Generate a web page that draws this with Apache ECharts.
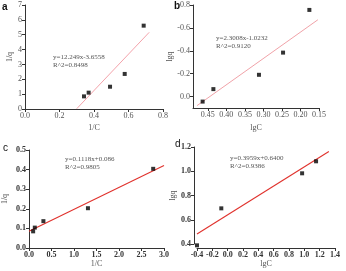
<!DOCTYPE html>
<html>
<head>
<meta charset="utf-8">
<script src="https://cdn.jsdelivr.net/npm/echarts@6/dist/echarts.min.js"></script>
<style>
  html, body { margin: 0; padding: 0; background: #fff; }
  #chart { width: 346px; height: 271px; }
</style>
</head>
<body>
<div id="chart"></div>
<script>
// panel a: 1/q vs 1/C
const aX = [0.342, 0.369, 0.493, 0.578, 0.688]
const aY = [0.85, 1.10, 1.50, 2.36, 5.61]
const aFit = [[0.30, 0.02], [0.72, 5.16]]
// panel b: lgq vs lgC
const bX = [0.464, 0.435, 0.312, 0.247, 0.176]
const bY = [0.044, -0.065, -0.19, -0.384, -0.757]
const bFit = [[0.479, 0.079], [0.153, -0.671]]
// panel c
const cX = [0.092, 0.129, 0.32, 1.31, 2.76]
const cY = [0.085, 0.104, 0.137, 0.203, 0.404]
const cFit = [[0, 0.086], [3, 0.421]]
// panel d
const dX = [-0.4, -0.083, 0.971, 1.153]
const dY = [0.389, 0.694, 0.983, 1.082]
const dFit = [[-0.4, 0.482], [1.32, 1.163]]

const panelLetters = ["a", "b", "c", "d"]
const equations = [
  ["y=12.249x-3.6558", "R^2=0.8498"],
  ["y=2.3008x-1.0232", "R^2=0.9120"],
  ["y=0.1118x+0.086", "R^2=0.9805"],
  ["y=0.3959x+0.6400", "R^2=0.9386"],
]
const xNames = ["1/C", "lgC", "1/C", "lgC"]
const yNames = ["1/q", "lgq", "1/q", "lgq"]

const serif = "'Liberation Serif', 'DejaVu Serif', serif"

function pairs(xs, ys) {
  return xs.map((x, i) => [x, ys[i]])
}

function axisBase(bold) {
  return {
    axisLine: { show: true, onZero: false, lineStyle: { color: "#333", width: 1 } },
    axisTick: { show: true, length: 3, lineStyle: { color: "#333" } },
    splitLine: { show: false },
    axisLabel: {
      fontFamily: serif,
      fontSize: 8,
      fontWeight: bold ? "bold" : "normal",
      color: bold ? "#333" : "#555",
      margin: 3,
    },
    nameLocation: "middle",
    nameTextStyle: { fontFamily: serif, fontSize: 8, color: "#555" },
  }
}

function fmt(d) {
  return (v) => v.toFixed(d)
}

const grids = [
  { left: 25, top: 5, width: 138, height: 104 },
  { left: 193, top: 5, width: 126, height: 103 },
  { left: 24, top: 150, width: 140, height: 98 },
  { left: 197, top: 147, width: 138, height: 97 },
]

const xAxes = [
  Object.assign(axisBase(false), {
    gridIndex: 0, type: "value", min: 0, max: 0.8, interval: 0.2,
    name: xNames[0], nameGap: 15,
  }),
  Object.assign(axisBase(false), {
    gridIndex: 1, type: "value", min: 0.15, max: 0.49, interval: 0.05, inverse: true,
    name: xNames[1], nameGap: 16,
  }),
  Object.assign(axisBase(true), {
    gridIndex: 2, type: "value", min: 0, max: 3, interval: 0.5,
    name: xNames[2], nameGap: 12,
  }),
  Object.assign(axisBase(true), {
    gridIndex: 3, type: "value", min: -0.4, max: 1.4, interval: 0.2, offset: 4,
    name: xNames[3], nameGap: 11,
  }),
]
xAxes[0].axisLabel = Object.assign({}, xAxes[0].axisLabel, { formatter: fmt(1) })
xAxes[1].axisLabel = Object.assign({}, xAxes[1].axisLabel, { formatter: fmt(2), showMaxLabel: false })
xAxes[2].axisLabel = Object.assign({}, xAxes[2].axisLabel, { formatter: fmt(1) })
xAxes[3].axisLabel = Object.assign({}, xAxes[3].axisLabel, { formatter: fmt(1) })

const yAxes = [
  Object.assign(axisBase(false), {
    gridIndex: 0, type: "value", min: 0, max: 7, interval: 1,
    name: yNames[0], nameGap: 11,
  }),
  Object.assign(axisBase(false), {
    gridIndex: 1, type: "value", min: -0.8, max: 0.1, interval: 0.2, inverse: true,
    name: yNames[1], nameGap: 16,
  }),
  Object.assign(axisBase(true), {
    gridIndex: 2, type: "value", min: 0, max: 0.5, interval: 0.1,
    name: yNames[2], nameGap: 20,
  }),
  Object.assign(axisBase(true), {
    gridIndex: 3, type: "value", min: 0.4, max: 1.2, interval: 0.2, offset: 3,
    name: yNames[3], nameGap: 16,
  }),
]
yAxes[0].axisLabel = Object.assign({}, yAxes[0].axisLabel, { formatter: fmt(0) })
yAxes[1].axisLabel = Object.assign({}, yAxes[1].axisLabel, { formatter: fmt(1), showMaxLabel: false })
yAxes[2].axisLabel = Object.assign({}, yAxes[2].axisLabel, { formatter: fmt(1) })
yAxes[3].axisLabel = Object.assign({}, yAxes[3].axisLabel, { formatter: fmt(1) })

const fitColors = ["#f08a94", "#ec8a92", "#e0312c", "#e0312c"]
const points = [pairs(aX, aY), pairs(bX, bY), pairs(cX, cY), pairs(dX, dY)]
const fits = [aFit, bFit, cFit, dFit]

const series = []
for (let i = 0; i < 4; i++) {
  series.push({
    type: "line",
    xAxisIndex: i,
    yAxisIndex: i,
    data: fits[i],
    symbol: "none",
    clip: false,
    lineStyle: { color: fitColors[i], width: i < 2 ? 0.8 : 1.1 },
    z: 1,
  })
  series.push({
    type: "scatter",
    xAxisIndex: i,
    yAxisIndex: i,
    data: points[i],
    symbol: "rect",
    symbolSize: 4,
    clip: false,
    itemStyle: { color: "#000" },
    z: 3,
  })
}

const eqPos = [[53, 53], [216, 34], [65, 155], [230, 154]]
const letterPos = [[2, 2], [174, 1], [3, 143], [175, 139]]
const graphic = []
for (let i = 0; i < 4; i++) {
  graphic.push({
    type: "text",
    left: eqPos[i][0],
    top: eqPos[i][1],
    style: {
      text: equations[i].join("\n"),
      fontFamily: serif,
      fontSize: 7,
      lineHeight: 8,
      fill: "#555",
    },
  })
  graphic.push({
    type: "text",
    left: letterPos[i][0],
    top: letterPos[i][1],
    style: {
      text: panelLetters[i],
      fontFamily: "'Liberation Sans', Arial, sans-serif",
      fontSize: 10,
      fontWeight: i < 2 ? "bold" : "normal",
      fill: "#111",
    },
  })
}

const chart = echarts.init(document.getElementById("chart"))
chart.setOption({
  animation: false,
  grid: grids,
  xAxis: xAxes,
  yAxis: yAxes,
  series: series,
  graphic: graphic,
})
</script>
</body>
</html>
